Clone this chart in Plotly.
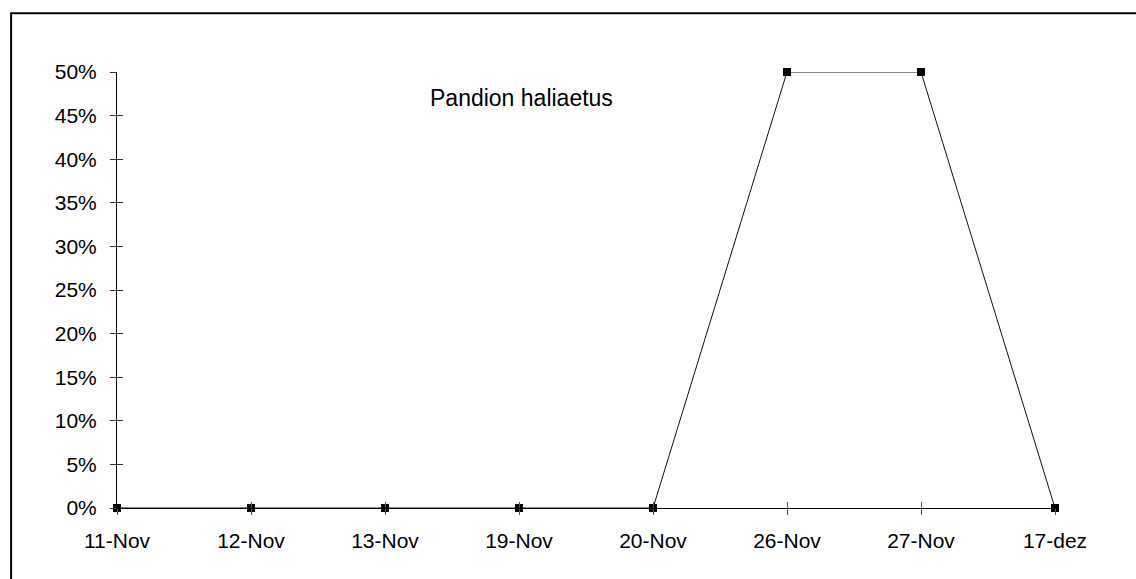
import plotly.graph_objects as go

# Sampling dates and share of Pandion haliaetus observations
dates = ["11-Nov", "12-Nov", "13-Nov", "19-Nov", "20-Nov", "26-Nov", "27-Nov", "17-dez"]
share = [0.0, 0.0, 0.0, 0.0, 0.0, 0.5, 0.5, 0.0]
y_ticks = [0.0, 0.05, 0.10, 0.15, 0.20, 0.25, 0.30, 0.35, 0.40, 0.45, 0.50]
species = "Pandion haliaetus"

FONT = "Liberation Sans, Arial, sans-serif"
FS = 21
idx = list(range(len(dates)))

fig = go.Figure()
fig.add_trace(go.Scatter(
    x=idx, y=share, mode="lines+markers",
    line=dict(color="#111111", width=1),
    marker=dict(symbol="square", size=8, color="black"),
    showlegend=False, cliponaxis=False,
))

axis_common = dict(showgrid=False, zeroline=False)

fig.update_layout(
    width=1136, height=579,
    margin=dict(l=117, r=81, t=72, b=71),
    paper_bgcolor="white", plot_bgcolor="white",
    font=dict(family=FONT, size=FS, color="black"),
    xaxis=dict(
        **axis_common, range=[0, len(dates) - 1],
        tickmode="array", tickvals=idx, ticktext=dates,
        showline=True, linecolor="black", linewidth=1,
        ticks="outside", ticklen=6, tickcolor="#555555", tickwidth=1,
        ticklabelstandoff=8,
    ),
    xaxis2=dict(
        **axis_common, overlaying="x", range=[0, len(dates) - 1],
        tickmode="array", tickvals=idx, showticklabels=False,
        ticks="inside", ticklen=6, tickcolor="#555555", tickwidth=1,
        showline=False,
    ),
    yaxis=dict(
        **axis_common, range=[0, 0.5],
        tickmode="array", tickvals=y_ticks, tickformat=".0%",
        showline=True, linecolor="black", linewidth=1,
        ticks="outside", ticklen=6, tickcolor="#333333", tickwidth=1,
        ticklabelstandoff=9,
    ),
    yaxis2=dict(
        **axis_common, overlaying="y", range=[0, 0.5],
        tickmode="array", tickvals=y_ticks, showticklabels=False,
        ticks="inside", ticklen=6, tickcolor="#333333", tickwidth=1,
        showline=False,
    ),
    annotations=[dict(
        x=3.02, y=0.4705, xref="x", yref="y", text=species, showarrow=False,
        font=dict(family=FONT, size=23, color="black"),
    )],
    shapes=[dict(
        type="rect", xref="paper", yref="paper",
        x0=-0.1129, x1=1.3, y0=-0.4, y1=1.135,
        line=dict(color="black", width=2), fillcolor="rgba(0,0,0,0)",
    )],
)

# Empty helper traces so the overlay axes (crossing tick halves) are drawn
fig.add_trace(go.Scatter(x=[None], y=[None], xaxis="x2", yaxis="y2", showlegend=False))

fig.write_html("out.html")
